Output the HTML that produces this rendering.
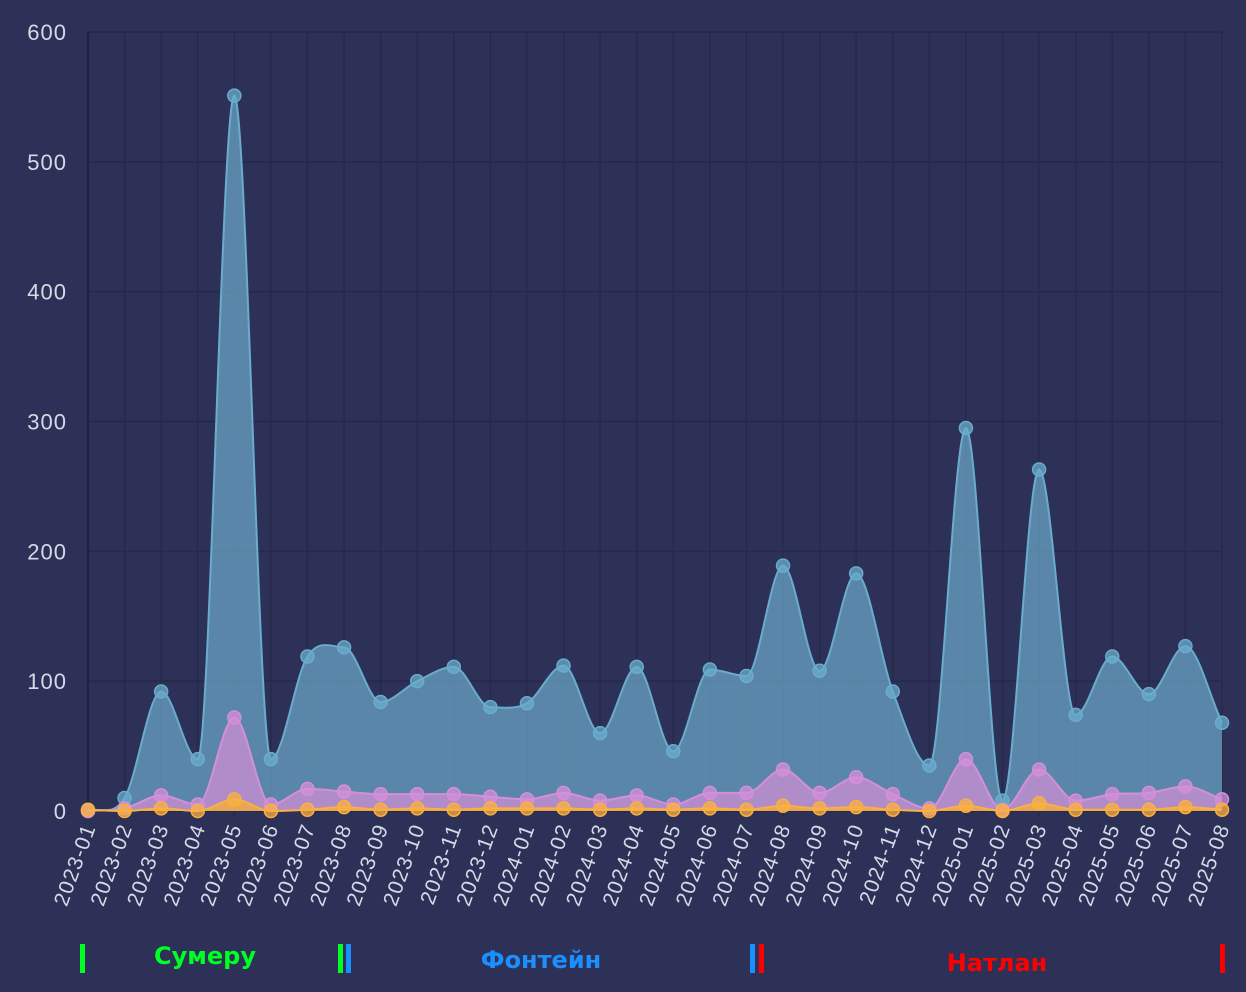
<!DOCTYPE html>
<html><head><meta charset="utf-8"><style>
body{margin:0;background:#2d3158;}
svg{display:block;font-family:"Liberation Sans",sans-serif;}
</style></head><body>
<svg id="c" width="1246" height="992"></svg>
<script>
const categories=["2023-01","2023-02","2023-03","2023-04","2023-05","2023-06","2023-07","2023-08","2023-09","2023-10","2023-11","2023-12","2024-01","2024-02","2024-03","2024-04","2024-05","2024-06","2024-07","2024-08","2024-09","2024-10","2024-11","2024-12","2025-01","2025-02","2025-03","2025-04","2025-05","2025-06","2025-07","2025-08"];
const blueValues=[0,10,92,40,551,40,119,126,84,100,111,80,83,112,60,111,46,109,104,189,108,183,92,35,295,8,263,74,119,90,127,68];
const pinkValues=[0,2,12,5,72,5,17,15,13,13,13,11,9,14,8,12,5,14,14,32,14,26,13,2,40,1,32,8,13,14,19,9];
const orangeValues=[1,0,2,0,9,0,1,3,1,2,1,2,2,2,1,2,1,2,1,4,2,3,1,0,4,0,6,1,1,1,3,1];
const yTicks=[0,100,200,300,400,500,600];

const NS="http://www.w3.org/2000/svg";
const svg=document.getElementById('c');
const X0=88,X1=1222,Y0=811,Y1=32,YMAX=600;
const xs=i=>X0+(X1-X0)*i/(categories.length-1);
const ys=v=>Y0-(Y0-Y1)*v/YMAX;
function el(t,a,p){const e=document.createElementNS(NS,t);for(const k in a)e.setAttribute(k,a[k]);(p||svg).appendChild(e);return e;}

const grid=el('g',{});


yTicks.forEach(t=>{
  el('line',{x1:X0,x2:X1,y1:ys(t),y2:ys(t),stroke:'#252946','stroke-width':1.5},grid);
  const tx=el('text',{x:67,y:ys(t)+8,'text-anchor':'end',fill:'#d6dae6','font-size':22,'letter-spacing':1},grid);
  tx.textContent=t;
  
  
});
categories.forEach((c,i)=>{
  el('line',{x1:xs(i),x2:xs(i),y1:Y1,y2:Y0+6,stroke:i==0?'#1e2140':'#262a4a','stroke-width':i==0?2:1.5},grid);
  const tx=el('text',{x:0,y:0,'text-anchor':'end',fill:'#d6dae6','font-size':21,'letter-spacing':1.2,transform:`translate(${xs(i)+8},${Y0+16}) rotate(-70)`},grid);
  tx.textContent=c;
  
  
});

function pathFor(vals){
  const p=vals.map((v,i)=>[xs(i),ys(v)]);
  const n=p.length;const d=[],m=[];
  for(let i=0;i<n-1;i++)d.push((p[i+1][1]-p[i][1])/(p[i+1][0]-p[i][0]));
  for(let i=0;i<n;i++){
    if(i==0)m.push(d[0]);else if(i==n-1)m.push(d[n-2]);
    else m.push(d[i-1]*d[i]<=0?0:(d[i-1]+d[i])/2);
  }
  let s=`M${p[0][0]},${p[0][1]}`;
  for(let i=0;i<n-1;i++){
    const h=(p[i+1][0]-p[i][0])/3;
    s+=` C${p[i][0]+h},${p[i][1]+m[i]*h} ${p[i+1][0]-h},${p[i+1][1]-m[i+1]*h} ${p[i+1][0]},${p[i+1][1]}`;
  }
  return s;
}
function series(vals,fill,stroke,fillOp,name){
  const g=el('g',{});
  
  
  const line=pathFor(vals);
  el('path',{d:line+` L${X1},${Y0} L${X0},${Y0} Z`,fill:fill,'fill-opacity':fillOp,stroke:'none'},g);
  el('path',{d:line,fill:'none',stroke:stroke,'stroke-width':2},g);
  vals.forEach((v,i)=>{
    const c=el('circle',{cx:xs(i),cy:ys(v),r:6.5,fill:stroke,'fill-opacity':0.75,stroke:stroke,'stroke-width':1.5},g);
    
    
  });
}
series(blueValues,'#6aa3c4','#6aaccc',0.75,'series-blue');
series(pinkValues,'#c68fd0','#d48fd8',0.8,'series-pink');
series(orangeValues,'#f0a848','#fbb040',0.9,'series-orange');

const lg=el('g',{});


const bars=[[82,'#00ff22'],[340,'#00ff22'],[348,'#1a8fff'],[752,'#1a8fff'],[761,'#ff0000'],[1222,'#ff0000']];
bars.forEach(b=>el('rect',{x:b[0]-2,y:944,width:5,height:29,fill:b[1]},lg));
[[205,964,'Сумеру','#00ff22'],[541,968,'Фонтейн','#1a8fff'],[997,971,'Натлан','#ff0000']].forEach(t=>{
  const tx=el('text',{x:t[0],y:t[1],'text-anchor':'middle',fill:t[3],'font-size':24,'font-weight':'bold','font-family':'"DejaVu Sans","Liberation Sans",sans-serif'},lg);
  tx.textContent=t[2];
  
  
});
</script>
</body></html>
